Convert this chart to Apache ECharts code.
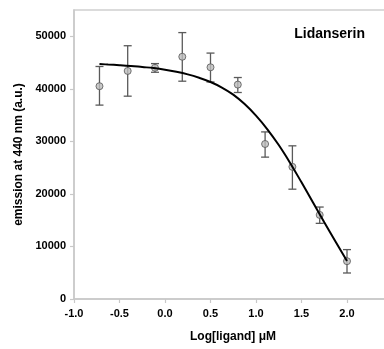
<!DOCTYPE html>
<html>
<head>
<meta charset="utf-8">
<script src="https://cdn.jsdelivr.net/npm/echarts@6/dist/echarts.min.js"></script>
<style>
html,body{margin:0;padding:0;background:#fff;}
#c{width:384px;height:349px;}
</style>
</head>
<body>
<div id="c"></div>
<script>
// Data
var logConc   = [-0.72, -0.41, -0.11, 0.19, 0.50, 0.80, 1.10, 1.40, 1.70, 2.00];
var emission  = [40500, 43400, 44000, 46100, 44100, 40800, 29500, 25150, 16000, 7200];
var errHigh   = [44250, 48200, 44800, 50700, 46800, 42150, 31800, 29150, 17500, 9400];
var errLow    = [36900, 38600, 43150, 41450, 41300, 39300, 27000, 20900, 14400, 4950];
var fitX      = [-0.72, -0.625, -0.5, -0.375, -0.25, -0.125, 0, 0.125, 0.25, 0.375, 0.5, 0.625, 0.75, 0.875, 1.0, 1.125, 1.25, 1.375, 1.5, 1.625, 1.75, 1.875, 2.0];
var fitY      = [44720, 44620, 44500, 44350, 44150, 43950, 43650, 43250, 42750, 42100, 41300, 40250, 38900, 37100, 34900, 32300, 29300, 25900, 22200, 18400, 14600, 10900, 7250];
var yTicks    = [0, 10000, 20000, 30000, 40000, 50000];
var xTicks    = [-1.0, -0.5, 0.0, 0.5, 1.0, 1.5, 2.0];
var titleText = 'Lidanserin';
var xName     = 'Log[ligand] μM';
var yName     = 'emission at 440 nm (a.u.)';

var FONT = '"Liberation Sans", Arial, sans-serif';
var points = logConc.map(function (x, i) { return [x, emission[i]]; });
var bars = logConc.map(function (x, i) { return [x, errLow[i], errHigh[i]]; });
var fit = fitX.map(function (x, i) { return [x, fitY[i]]; });

var chart = echarts.init(document.getElementById('c'), null, {renderer: 'canvas'});
chart.setOption({
  animation: false,
  backgroundColor: '#fff',
  title: {
    text: titleText, right: 14, top: 22,
    textStyle: {fontFamily: FONT, fontSize: 14, fontWeight: 'bold', color: '#000'}
  },
  grid: {
    left: 74, top: 10, width: 318.5, height: 289,
    outerBoundsMode: 'none', containLabel: false,
    show: true, borderColor: '#d0d0d0', borderWidth: 1.5, backgroundColor: 'transparent'
  },
  xAxis: {
    type: 'value', min: -1.0, max: 2.5, interval: 0.5,
    axisLine: {show: true, onZero: false, lineStyle: {color: '#c8c8c8', width: 1.5}},
    axisTick: {show: true, length: 4, lineStyle: {color: '#c8c8c8', width: 1.2}, customValues: xTicks},
    splitLine: {show: false},
    axisLabel: {
      customValues: xTicks, margin: 9,
      fontFamily: FONT, fontSize: 11, fontWeight: 'bold', color: '#000',
      formatter: function (v) { return Number(v).toFixed(1); }
    }
  },
  yAxis: {
    type: 'value', min: 0, max: 55000, interval: 10000,
    name: yName, nameLocation: 'middle', nameGap: 49,
    nameTextStyle: {fontFamily: FONT, fontSize: 12, fontWeight: 'bold', color: '#000'},
    axisLine: {show: true, onZero: false, lineStyle: {color: '#c8c8c8', width: 1.5}},
    axisTick: {show: true, length: 4, lineStyle: {color: '#c8c8c8', width: 1.2}, customValues: yTicks},
    splitLine: {show: false},
    axisLabel: {
      customValues: yTicks, margin: 8,
      fontFamily: FONT, fontSize: 11, fontWeight: 'bold', color: '#000',
      formatter: function (v) { return String(Math.round(v)); }
    }
  },
  graphic: [{
    type: 'text', left: 190, top: 331,
    style: {text: xName, font: 'bold 12px ' + FONT, fill: '#000'}
  }],
  series: [
    {
      type: 'custom', data: bars, z: 2,
      renderItem: function (params, api) {
        var x = api.value(0);
        var lo = api.coord([x, api.value(1)]);
        var hi = api.coord([x, api.value(2)]);
        var w = 4;
        var st = {stroke: '#5a5a5a', lineWidth: 1.3};
        return {
          type: 'group',
          children: [
            {type: 'line', shape: {x1: lo[0], y1: lo[1], x2: hi[0], y2: hi[1]}, style: st},
            {type: 'line', shape: {x1: lo[0] - w, y1: lo[1], x2: lo[0] + w, y2: lo[1]}, style: st},
            {type: 'line', shape: {x1: hi[0] - w, y1: hi[1], x2: hi[0] + w, y2: hi[1]}, style: st}
          ]
        };
      }
    },
    {
      type: 'scatter', data: points, z: 3, symbol: 'circle', symbolSize: 7,
      itemStyle: {color: '#bdbdbd', borderColor: '#555', borderWidth: 1}
    },
    {
      type: 'line', data: fit, z: 4, smooth: 0.4, showSymbol: false,
      lineStyle: {color: '#000', width: 2}
    }
  ]
});
</script>
</body>
</html>
